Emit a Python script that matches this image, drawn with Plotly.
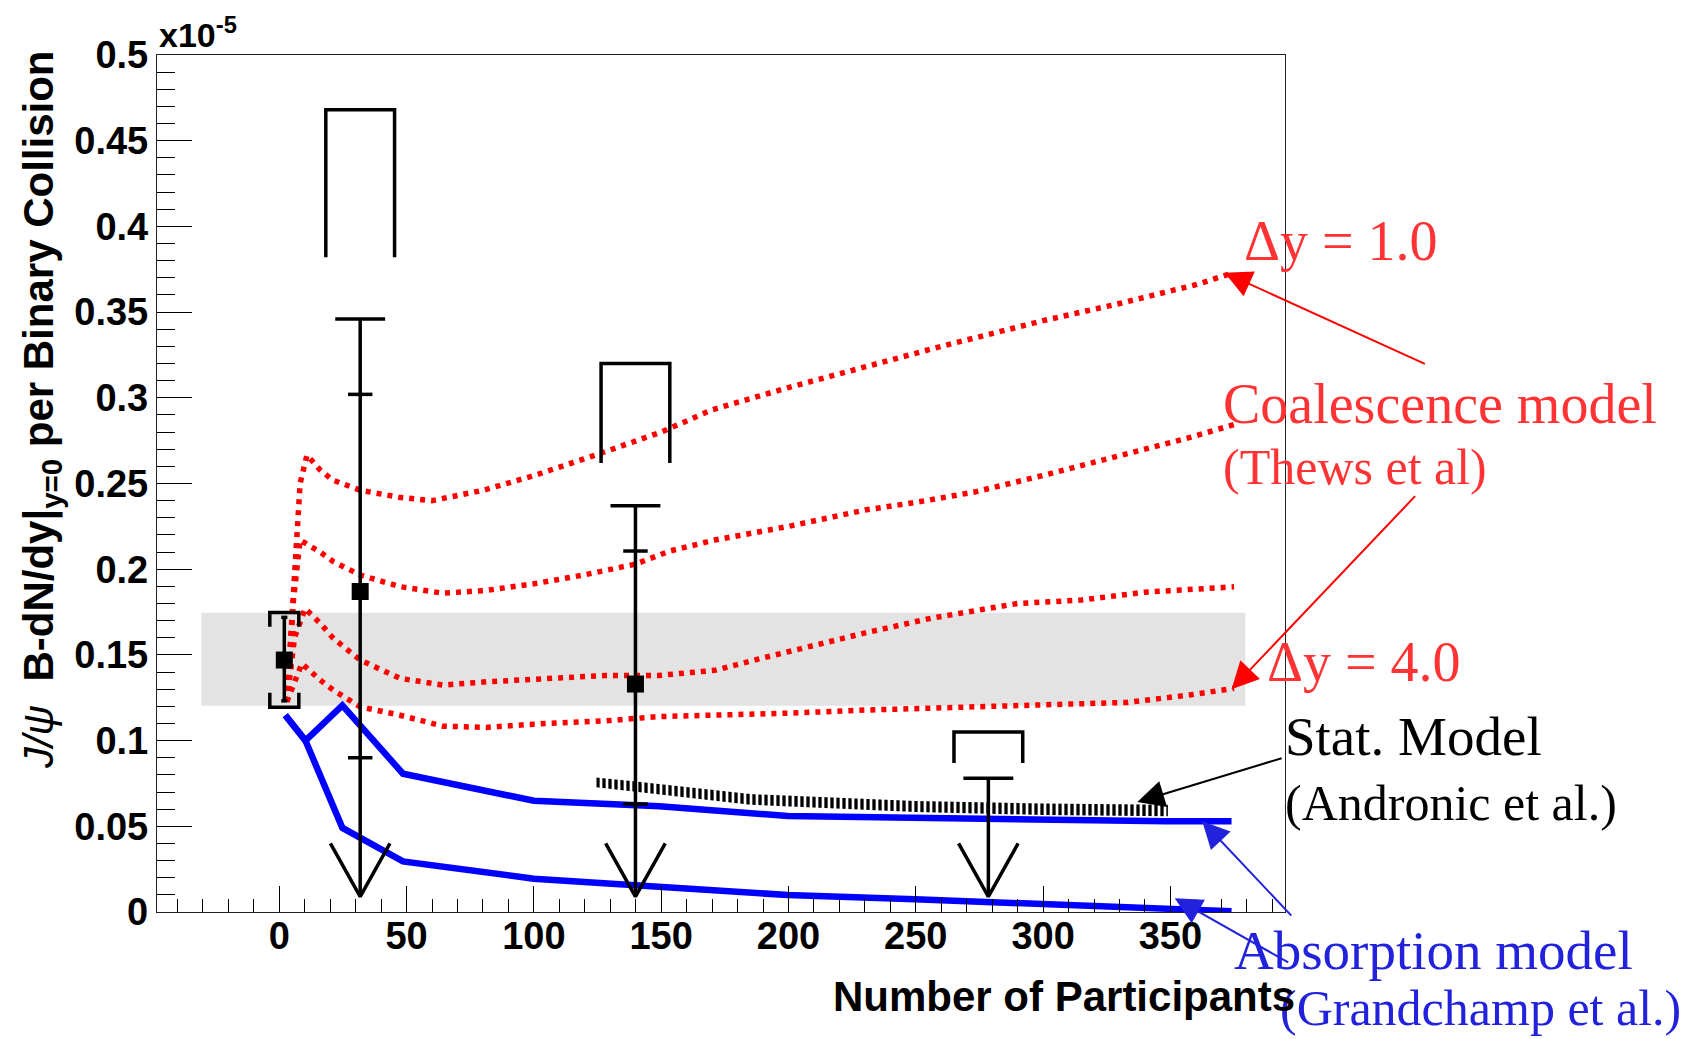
import plotly.graph_objects as go

# ---------------- data ----------------
# Coalescence model (Thews et al.), four rapidity widths (top: dy=1.0 ... bottom: dy=4.0)
coal1_x = [3, 5.6, 8.2, 10.9, 16, 21, 32, 47, 60, 80, 100, 125, 150, 170, 200, 230, 260, 300, 330, 360, 375]
coal1_y = [0.1226, 0.182, 0.250, 0.2666, 0.258, 0.252, 0.246, 0.242, 0.240, 0.246, 0.2546, 0.267, 0.280,
           0.293, 0.306, 0.318, 0.330, 0.345, 0.355, 0.366, 0.373]
coal2_x = [3, 5.6, 8.2, 16.1, 21.3, 31.8, 47.5, 64.3, 81.3, 100, 119.5, 140, 153.4, 171, 200, 230, 250, 273,
           300, 333, 358, 375]
coal2_y = [0.1226, 0.182, 0.217, 0.210, 0.2044, 0.1966, 0.1898, 0.186, 0.1876, 0.1915, 0.1966, 0.203, 0.2106,
           0.217, 0.225, 0.2345, 0.239, 0.245, 0.2547, 0.267, 0.277, 0.2844]
coal3_x = [3, 6, 10.2, 16.1, 21.3, 31.8, 47.5, 64.3, 81.3, 100, 128, 149, 171, 188, 213.5, 230.6, 256, 290,
           315, 340, 375]
coal3_y = [0.1226, 0.160, 0.1771, 0.1684, 0.1596, 0.147, 0.1363, 0.1324, 0.1343, 0.1355, 0.138, 0.138, 0.141,
           0.1475, 0.157, 0.163, 0.1714, 0.180, 0.182, 0.1866, 0.1897]
coal4_x = [3, 8.9, 16.1, 21.3, 31.8, 47.5, 64.3, 81.3, 100, 128, 149, 171, 200, 230, 256, 300, 333, 358, 375]
coal4_y = [0.1226, 0.145, 0.1353, 0.1294, 0.1197, 0.1148, 0.1084, 0.1077, 0.1096, 0.1115, 0.114, 0.1146,
           0.116, 0.1178, 0.119, 0.121, 0.1223, 0.1267, 0.1305]

# Absorption model (Grandchamp et al.)
abs_hi_x = [2.4, 10.3, 24.8, 48.6, 100, 128, 149.3, 199.7, 249.7, 299.8, 348.5, 374]
abs_hi_y = [0.1148, 0.100, 0.1205, 0.0807, 0.0649, 0.063, 0.0617, 0.056, 0.0548, 0.0535, 0.0529, 0.0529]
abs_lo_x = [2.4, 10.3, 24.8, 48.6, 100, 149.3, 199.7, 249.7, 299.8, 348.5, 374]
abs_lo_y = [0.1148, 0.100, 0.0491, 0.0295, 0.0194, 0.015, 0.0099, 0.0074, 0.0049, 0.0024, 0.0005]

# Statistical model (Andronic et al.) band
stat_x = [124.5, 140, 185, 250, 300, 349]
stat_top = [0.0785, 0.0762, 0.0688, 0.0648, 0.0633, 0.0626]
stat_bot = [0.0728, 0.0703, 0.0626, 0.0583, 0.0566, 0.0558]

# p+p reference point and band
pp_x = 2
pp_y = 0.147
pp_stat = [0.1232, 0.1719]
pp_sys = [0.1195, 0.1748]
band_x = [-30.6, 379.4]
band_y = [0.1204, 0.1746]

# Au+Au points
au_x = [31.8, 139.9, 278.5]
au_y = [0.187, 0.133, None]
au_tot_hi = [0.346, 0.237, 0.078]
au_stat_hi = [0.302, 0.2106, None]
au_stat_lo = [0.090, 0.063, None]
au_sys_top = [0.468, 0.320, 0.105]
au_sys_bot = [0.382, 0.262, 0.087]
limit_tip = 0.009

x_ticks = [0, 50, 100, 150, 200, 250, 300, 350]
x_ticktext = ["0", "50", "100", "150", "200", "250", "300", "350"]
y_ticks = [0, 0.05, 0.1, 0.15, 0.2, 0.25, 0.3, 0.35, 0.4, 0.45, 0.5]
y_ticktext = ["0", "0.05", "0.1", "0.15", "0.2", "0.25", "0.3", "0.35", "0.4", "0.45", "0.5"]

# ---------------- layout geometry ----------------
OFF = 8  # page body margin offset
W, H = 1694 - OFF, 1039 - OFF
L, R, T, B = 157 - OFF, 409, 55 - OFF, 127
PW = W - L - R
PH = H - T - B


def px(xp):  # reference-image pixel -> paper
    return (xp - OFF - L) / PW


def py(yp):
    return (H - B - (yp - OFF)) / PH


fig = go.Figure()

# grey band (p+p systematic)
fig.add_trace(go.Scatter(
    x=[band_x[0], band_x[1], band_x[1], band_x[0], band_x[0]],
    y=[band_y[0], band_y[0], band_y[1], band_y[1], band_y[0]],
    mode="lines", fill="toself", fillcolor="#e3e3e3", line=dict(width=0), hoverinfo="skip"))

# statistical model hatched band
fig.add_trace(go.Scatter(x=stat_x, y=stat_bot, mode="lines", line=dict(width=0, color="black"),
                         hoverinfo="skip"))
fig.add_trace(go.Scatter(x=stat_x, y=stat_top, mode="lines", line=dict(width=0, color="black"),
                         fill="tonexty", fillcolor="rgba(0,0,0,0)",
                         fillpattern=dict(shape="|", fgcolor="black", fgopacity=1,
                                          bgcolor="rgba(0,0,0,0)", size=6, solidity=0.55),
                         hoverinfo="skip"))

# coalescence curves
for cx, cy in [(coal1_x, coal1_y), (coal2_x, coal2_y), (coal3_x, coal3_y), (coal4_x, coal4_y)]:
    fig.add_trace(go.Scatter(x=cx, y=cy, mode="lines",
                             line=dict(color="#ff0000", width=5.5, dash="5px,6px")))

# absorption curves
for cx, cy in [(abs_hi_x, abs_hi_y), (abs_lo_x, abs_lo_y)]:
    fig.add_trace(go.Scatter(x=cx, y=cy, mode="lines", line=dict(color="#0000ff", width=6.5)))

# data error structures
ex, ey = [], []


def seg(xlist, ylist):
    ex.extend(xlist + [None])
    ey.extend(ylist + [None])


CAP_W = 9.8
TICK_W = 4.8
ARM_W = 11.7
ARM_TOP = 0.040
BR_W = 13.5
for i, xv in enumerate(au_x):
    seg([xv, xv], [au_tot_hi[i], limit_tip])
    seg([xv - CAP_W, xv + CAP_W], [au_tot_hi[i], au_tot_hi[i]])
    for v in (au_stat_hi[i], au_stat_lo[i]):
        if v is not None:
            seg([xv - TICK_W, xv + TICK_W], [v, v])
    seg([xv - ARM_W, xv, xv + ARM_W], [ARM_TOP, limit_tip, ARM_TOP])
    seg([xv - BR_W, xv - BR_W, xv + BR_W, xv + BR_W],
        [au_sys_bot[i], au_sys_top[i], au_sys_top[i], au_sys_bot[i]])

# p+p point error bars and brackets
PP_BR_W = 5.7
PP_BR_LEG = 0.0084
seg([pp_x, pp_x], pp_stat)
seg([pp_x - 1.2, pp_x + 1.2], [pp_stat[0], pp_stat[0]])
seg([pp_x - 1.2, pp_x + 1.2], [pp_stat[1], pp_stat[1]])
seg([pp_x - PP_BR_W, pp_x - PP_BR_W, pp_x + PP_BR_W, pp_x + PP_BR_W],
    [pp_sys[1] - PP_BR_LEG, pp_sys[1], pp_sys[1], pp_sys[1] - PP_BR_LEG])
seg([pp_x - PP_BR_W, pp_x - PP_BR_W, pp_x + PP_BR_W, pp_x + PP_BR_W],
    [pp_sys[0] + PP_BR_LEG, pp_sys[0], pp_sys[0], pp_sys[0] + PP_BR_LEG])

fig.add_trace(go.Scatter(x=ex, y=ey, mode="lines", line=dict(color="black", width=3.5),
                         hoverinfo="skip"))

mx = [pp_x] + [x for x, y in zip(au_x, au_y) if y is not None]
my = [pp_y] + [y for y in au_y if y is not None]
fig.add_trace(go.Scatter(x=mx, y=my, mode="markers",
                         marker=dict(symbol="square", size=17, color="black")))

# ---------------- annotations ----------------
serif = "Liberation Serif, Times New Roman, serif"
sans = "Liberation Sans, Arial, Helvetica, sans-serif"
anns = []


def text(t, xl, base, size, color, anchor="left", family=serif, weight="normal"):
    anns.append(dict(text=t, xref="paper", yref="paper", x=px(xl), y=py(base + 0.216 * size + 1),
                     xanchor=anchor, yanchor="bottom", showarrow=False,
                     font=dict(family=family, size=size, color=color, weight=weight)))


RED_T = "#ff3333"
BLUE_T = "#2222dd"
text("Δy = 1.0", 1242, 261, 56, RED_T)
text("Coalescence model", 1221, 424, 56, RED_T)
text("(Thews et al)", 1221, 485, 50, RED_T)
text("Δy = 4.0", 1265, 682, 56, RED_T)
text("Stat. Model", 1283, 756, 55, "black")
text("(Andronic et al.)", 1283, 821, 50, "black")
text("Absorption model", 1232, 970, 55, BLUE_T)
text("(Grandchamp et al.)", 1278, 1026, 50, BLUE_T)

text("Number of Participants", 1297, 1011.7, 42, "black", anchor="right", family=sans, weight="bold")
text("x10<sup>-5</sup>", 157, 48, 34, "black", family=sans, weight="bold")

anns.append(dict(
    text="<span style='font-weight:normal'><i>J/ψ</i></span>  B-dN/dy|<sub>y=0</sub> per Binary Collision",
    xref="paper", yref="paper", x=px(41), y=py(48.6), xanchor="center", yanchor="top",
    textangle=-90, showarrow=False, font=dict(family=sans, size=42, color="black", weight="bold")))


def arrow(hx, hy, ax, ay, color, width=2, size=2.7):
    anns.append(dict(text="", x=hx, y=hy, xref="x", yref="y", ax=ax, ay=ay, showarrow=True,
                     arrowhead=2, arrowsize=size, arrowwidth=width, arrowcolor=color, standoff=0))


arrow(371.3, 0.373, 201.7, 91.9, "#ff0000")
arrow(374, 0.130, 185, -194.5, "#ff0000")
arrow(337, 0.0642, 145.8, -44.2, "black")
arrow(362.5, 0.053, 90.5, 96, BLUE_T)
arrow(351.7, 0.008, 115, 65, BLUE_T)

fig.update_layout(
    width=W, height=H, margin=dict(l=L, r=R, t=T, b=B),
    paper_bgcolor="white", plot_bgcolor="white", showlegend=False,
    annotations=anns,
    xaxis=dict(range=[-48, 395], tickmode="array", tickvals=x_ticks, ticktext=x_ticktext,
               ticks="inside", ticklen=26, tickwidth=1.3, tickcolor="black",
               minor=dict(tickmode="linear", tick0=0, dtick=10, ticks="inside", ticklen=13,
                          tickwidth=1.3, tickcolor="black", showgrid=False),
               showline=True, linecolor="#222", linewidth=1.3, mirror=True,
               showgrid=False, zeroline=False, ticklabelstandoff=-10,
               tickfont=dict(family=sans, size=38, color="black", weight="bold")),
    yaxis=dict(range=[0, 0.5], tickmode="array", tickvals=y_ticks, ticktext=y_ticktext,
               ticks="inside", ticklen=35, tickwidth=1.3, tickcolor="black",
               minor=dict(tickmode="linear", tick0=0, dtick=0.01, ticks="inside", ticklen=17.7,
                          tickwidth=1.3, tickcolor="black", showgrid=False),
               showline=True, linecolor="#222", linewidth=1.3, mirror=True,
               showgrid=False, zeroline=False,
               tickfont=dict(family=sans, size=38, color="black", weight="bold")),
)

fig.write_html("out.html")
